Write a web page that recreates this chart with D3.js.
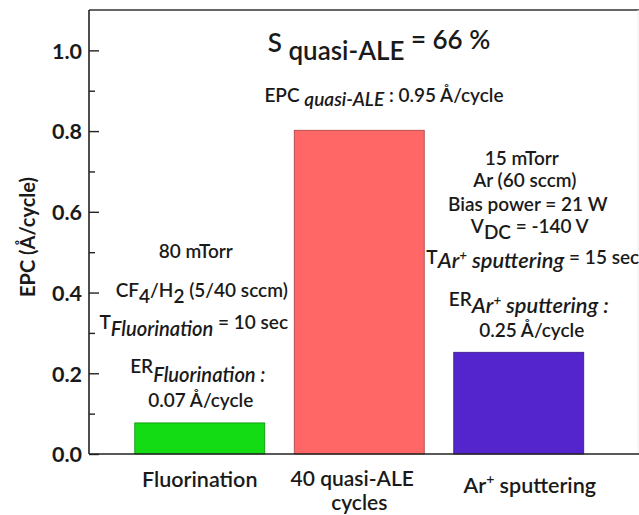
<!DOCTYPE html>
<html><head><meta charset="utf-8">
<script src="https://cdn.jsdelivr.net/npm/d3@7"></script>
<style>
html,body{margin:0;padding:0;background:#fff;}
svg{display:block;}
text{font-family:Lato,"Open Sans",sans-serif;fill:#1a1a1a;}
</style></head>
<body>
<svg id="c" width="639" height="515"></svg>
<script>
// ---- data ----
const categories = ["Fluorination", "40 quasi-ALE cycles", "Ar+ sputtering"];
const epcValues = [0.077, 0.802, 0.252];
const barColors = ["#14dc14", "#ff6666", "#5425cc"];
const yTickValues = [0.0, 0.2, 0.4, 0.6, 0.8, 1.0];
const yMinorValues = [0.1, 0.3, 0.5, 0.7, 0.9];
const yDomain = [0, 1.1];
const yTitle = "EPC (Å/cycle)";
// rich-text annotation lines: segments [text, kind]
const titleLine = [["S ", ""], ["quasi-ALE", "sub"], [" = 66 %", "up"]];
const epcLine = [["EPC ", ""], ["quasi-ALE", "subit"], [" : 0.95 Å/cycle", ""]];
const leftNotes = [
  [["80 mTorr", ""]],
  [["CF", ""], ["4", "sub"], ["/H", ""], ["2", "sub"], [" (5/40 sccm)", ""]],
  [["T", ""], ["Fluorination", "subit"], ["  = 10 sec", ""]],
  [["ER", ""], ["Fluorination :", "subit"]],
  [["0.07 Å/cycle", ""]]
];
const rightNotes = [
  [["15 mTorr", ""]],
  [["Ar (60 sccm)", ""]],
  [["Bias power = 21 W", ""]],
  [["V", ""], ["DC", "sub"], [" = -140 V", ""]],
  [["T", ""], ["Ar", "subit"], ["+", "supit"], [" sputtering ", "it"], [" = 15 sec", ""]],
  [["ER", ""], ["Ar", "subit"], ["+", "supit"], [" sputtering :", "it"]],
  [["0.25  Å/cycle", ""]]
];

// ---- layout ----
const svg = d3.select("#c");
const plot = {left: 89, right: 639, top: 10, bottom: 454};
const y = d3.scaleLinear().domain(yDomain).range([plot.bottom, plot.top]);
const x = d3.scaleBand().domain(categories).range([120, 598.5]).paddingInner(0.185).paddingOuter(0.0925);

// bars
svg.selectAll("rect.bar").data(categories).join("rect")
  .attr("class", "bar")
  .attr("x", d => x(d))
  .attr("width", x.bandwidth())
  .attr("y", (d, i) => y(epcValues[i]))
  .attr("height", (d, i) => y(0) - y(epcValues[i]))
  .attr("fill", (d, i) => barColors[i])
  .attr("stroke", (d, i) => d3.color(barColors[i]).darker(1.2))
  .attr("stroke-width", 0.8);

// frame
svg.append("line").attr("x1", plot.left).attr("x2", plot.right).attr("y1", plot.top).attr("y2", plot.top)
  .attr("stroke", "#333").attr("stroke-width", 1.6);
svg.append("line").attr("x1", 638).attr("x2", 638).attr("y1", plot.top).attr("y2", plot.bottom)
  .attr("stroke", "#eee").attr("stroke-width", 1);
svg.append("line").attr("x1", plot.left).attr("x2", plot.right).attr("y1", plot.bottom).attr("y2", plot.bottom)
  .attr("stroke", "#222").attr("stroke-width", 1.6);

// y axis
const yAxis = svg.append("g").attr("transform", `translate(${plot.left},0)`)
  .call(d3.axisLeft(y).tickValues(yTickValues).tickFormat(d3.format(".1f")).tickSizeInner(-10).tickSizeOuter(0).tickPadding(7));
yAxis.select(".domain").attr("stroke", "#222").attr("stroke-width", 1.6).attr("d", `M0,${plot.top}V${plot.bottom}`);
yAxis.selectAll(".tick line").attr("stroke", "#222").attr("stroke-width", 1.4);
yAxis.selectAll(".tick text").attr("font-size", 21.5).attr("font-weight", 700).attr("fill", "#1a1a1a")
  .attr("font-family", "Lato, sans-serif").attr("dy", "0.36em");
const yMinor = svg.append("g").attr("transform", `translate(${plot.left},0)`)
  .call(d3.axisLeft(y).tickValues(yMinorValues).tickFormat("").tickSizeInner(-6).tickSizeOuter(0));
yMinor.select(".domain").remove();
yMinor.selectAll(".tick line").attr("stroke", "#222").attr("stroke-width", 1.4);

// y title
svg.append("text").attr("transform", `translate(35,237) rotate(-90)`)
  .attr("text-anchor", "middle").attr("font-size", 20).attr("font-weight", 700).text(yTitle);

// rich text helper
function rich(sel, cx, by, segs, fs, weight, subShift, itScale) {
  const t = sel.append("text").attr("x", cx).attr("y", by).attr("font-size", fs)
    .attr("font-weight", weight).attr("text-anchor", "middle");
  let cur = 0;
  segs.forEach(([txt, kind]) => {
    let shift = 0, size = fs, it = false;
    if (kind === "sub") shift = fs * 0.3;
    if (kind === "subit") { shift = subShift; it = true; size = fs * itScale; }
    if (kind === "supit") { shift = subShift - fs * 0.4; size = fs * 0.7; it = true; }
    if (kind === "it") { shift = subShift; it = true; size = fs * itScale; }
    if (kind === "up") shift = -fs * 0.1;
    const ts = t.append("tspan").attr("dy", shift - cur).text(txt);
    if (it) ts.attr("font-style", "italic");
    if (size !== fs) ts.attr("font-size", size);
    cur = shift;
  });
  return t;
}

// title & EPC
rich(svg, 379, 52, titleLine, 26, 600, 0, 1);
rich(svg, 384, 102, epcLine, 19, 600, 4, 1);

// left notes (near Fluorination bar)
const cL = x(categories[0]) + x.bandwidth() / 2;
const leftPos = [[-4, 258, 0], [2, 297, 0], [-6, 329, 7], [-2, 373, 9], [1, 407, 0]];
leftNotes.forEach((segs, i) => rich(svg, cL + leftPos[i][0], leftPos[i][1], segs, 19, 600, leftPos[i][2], 1.06));

// right notes (near Ar+ bar)
const cR = x(categories[2]) + x.bandwidth() / 2;
const rightPos = [[3, 165, 0], [6, 187, 0], [9, 211, 0], [11, 233, 0], [14, 264, 4], [10, 306, 7], [13, 337, 0]];
rightNotes.forEach((segs, i) => rich(svg, cR + rightPos[i][0], rightPos[i][1], segs, 19, 600, rightPos[i][2], 1.15));

// x labels
const xl = svg.append("g");
function xLabel(cat, dx, by, txt, fs) {
  const c = x(cat) + x.bandwidth() / 2 + dx;
  return xl.append("text").attr("x", c).attr("y", by).attr("text-anchor", "middle")
    .attr("font-size", fs || 21.5).attr("font-weight", 600).text(txt || null);
}
xLabel(categories[0], 0, 487, categories[0]);
const catWords = categories[1].split(" ");
xLabel(categories[1], -7, 486, catWords.slice(0, 2).join(" "), 21);
xLabel(categories[1], 0, 510, catWords.slice(2).join(" "), 21);
const l3 = xLabel(categories[2], 11, 493);
l3.append("tspan").text("Ar");
l3.append("tspan").attr("dy", -9).attr("font-size", 14).text("+");
l3.append("tspan").attr("dy", 9).text(" sputtering");
</script>
</body></html>
